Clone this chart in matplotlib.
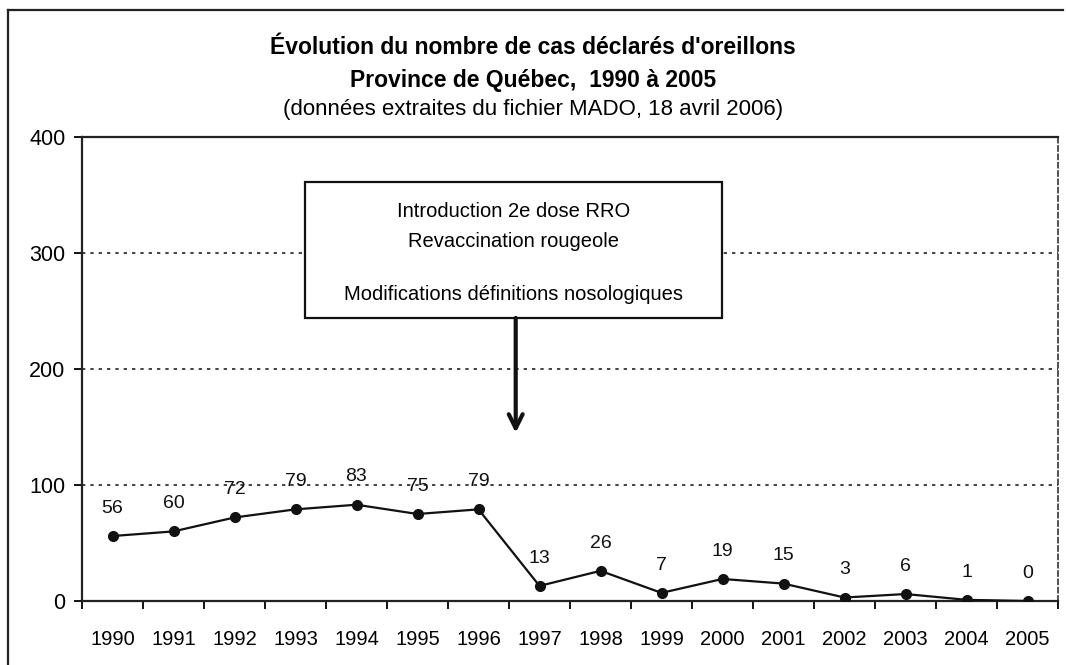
import numpy as np
import matplotlib.pyplot as plt
from matplotlib.patches import Rectangle
from matplotlib.lines import Line2D

plt.rcParams['font.family'] = ['Liberation Sans', 'DejaVu Sans']

# cas déclarés d'oreillons, Québec
annees = ['1990', '1991', '1992', '1993', '1994', '1995', '1996', '1997',
          '1998', '1999', '2000', '2001', '2002', '2003', '2004', '2005']
cas = [56, 60, 72, 79, 83, 75, 79, 13, 26, 7, 19, 15, 3, 6, 1, 0]
yticks = [0, 100, 200, 300, 400]

W, H = 1066, 665
fig = plt.figure(figsize=(W/100, H/100), dpi=100)

# cadre extérieur (scan)
fig.add_artist(Line2D([8/W, 8/W], [0, 1-10/H], color='#222222', lw=1.6))
fig.add_artist(Line2D([8/W, 1063/W], [1-10/H, 1-10/H], color='#222222', lw=1.6))

ax = fig.add_axes([82/W, 1-601/H, (1058-82)/W, (601-137)/H])
x = np.arange(len(annees))
ax.plot(x, cas, color='#111111', lw=1.6, marker='o', ms=7, zorder=3)

for xi, v in zip(x, cas):
    ax.annotate(str(v), (xi, v), xytext=(0, 20), textcoords='offset points',
                ha='center', va='center', fontsize=14, color='#111111')

ax.set_xlim(-0.5, len(annees)-0.5)
ax.set_ylim(0, 400)
ax.set_yticks(yticks)
ax.set_yticklabels([str(t) for t in yticks], fontsize=15.5)
ax.set_xticks(x)
ax.set_xticklabels(annees, fontsize=14.5)
ax.set_xticks(np.arange(-0.5, len(annees)), minor=True)
ax.tick_params(axis='x', which='major', length=0, pad=21)
ax.tick_params(axis='x', which='minor', length=6, width=1.3, direction='out')
ax.tick_params(axis='y', length=6, width=1.3, direction='out', pad=6)

for t in [100, 200, 300]:
    ax.axhline(t, color='#222222', lw=1.2, ls=(0, (2, 3)), zorder=1)

for s in ['left', 'bottom', 'top']:
    ax.spines[s].set_linewidth(1.6)
    ax.spines[s].set_color('#222222')
ax.spines['right'].set_linewidth(1.2)
ax.spines['right'].set_linestyle((0, (3, 2)))
ax.spines['right'].set_color('#333333')

# encadré + flèche
ax.add_patch(Rectangle((3.16, 244), 9.99-3.16, 361-244, fill=True,
                       facecolor='white', edgecolor='#111111', lw=1.6, zorder=4))
cx = (3.16 + 9.99) / 2
ax.text(cx, 336, 'Introduction 2e dose RRO', ha='center', va='center',
        fontsize=14.5, zorder=5)
ax.text(cx, 310, 'Revaccination rougeole', ha='center', va='center',
        fontsize=14.5, zorder=5)
ax.text(cx, 264, 'Modifications définitions nosologiques', ha='center',
        va='center', fontsize=14.5, zorder=5)
ax.annotate('', xy=(6.61, 145), xytext=(6.61, 244),
            arrowprops=dict(arrowstyle='->, head_length=1.0, head_width=0.5',
                            lw=3, color='#111111', shrinkA=0, shrinkB=0),
            zorder=5)

fig.text(0.5, 1-48/H, "Évolution du nombre de cas déclarés d'oreillons",
         ha='center', va='center', fontsize=16.5, fontweight='bold')
fig.text(0.5, 1-80/H, 'Province de Québec,  1990 à 2005',
         ha='center', va='center', fontsize=16.5, fontweight='bold')
fig.text(0.5, 1-110/H, '(données extraites du fichier MADO, 18 avril 2006)',
         ha='center', va='center', fontsize=16)

fig.savefig('out.png', dpi=100)
